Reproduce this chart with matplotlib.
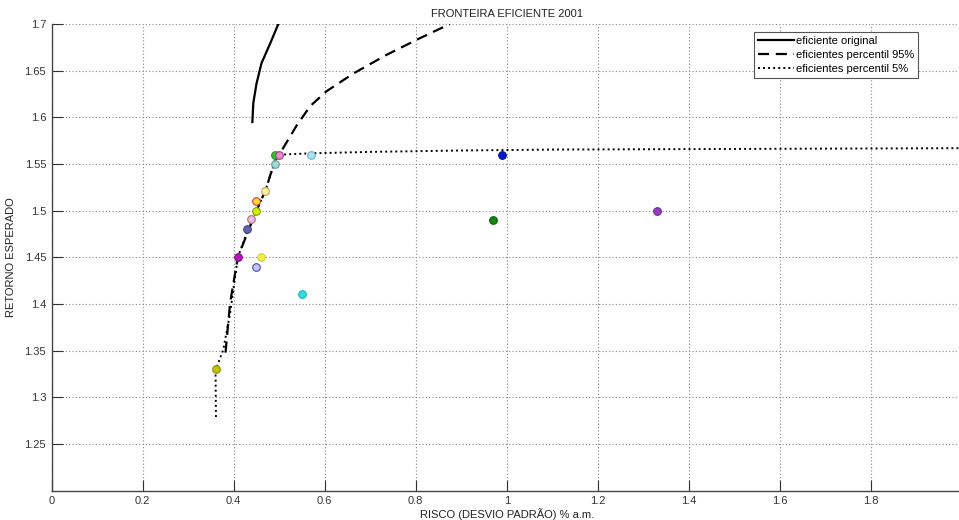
import matplotlib
matplotlib.use("Agg")
import matplotlib.pyplot as plt

plt.rcParams["font.family"] = ["Liberation Sans", "DejaVu Sans"]
plt.rcParams["font.size"] = 8

# efficient frontiers
orig_x = [0.441, 0.443, 0.450, 0.461, 0.480, 0.498]
orig_y = [1.595, 1.615, 1.636, 1.658, 1.679, 1.700]

p95_x = [0.382, 0.392, 0.409, 0.430, 0.450, 0.470, 0.490, 0.500, 0.538, 0.568, 0.604, 0.663, 0.736, 0.810, 0.875]
p95_y = [1.348, 1.401, 1.450, 1.476, 1.500, 1.522, 1.553, 1.560, 1.591, 1.612, 1.628, 1.647, 1.667, 1.685, 1.700]

p5_x = [0.361, 0.360, 0.377, 0.392, 0.409, 0.430, 0.450, 0.470, 0.490, 0.500, 0.570, 0.700, 0.900, 1.100, 1.400, 1.700, 2.000]
p5_y = [1.279, 1.329, 1.351, 1.390, 1.450, 1.478, 1.500, 1.522, 1.552, 1.560, 1.5615, 1.563, 1.5645, 1.5655, 1.566, 1.5665, 1.567]

# individual assets
asset_x = [0.490, 0.499, 0.490, 0.569, 0.468, 0.450, 0.450, 0.439, 0.430, 0.409, 0.460, 0.449, 0.550, 0.360, 0.990, 0.970, 1.330]
asset_y = [1.560, 1.560, 1.550, 1.560, 1.521, 1.510, 1.500, 1.491, 1.480, 1.450, 1.450, 1.440, 1.411, 1.330, 1.560, 1.490, 1.500]
asset_face = ["#2ec82e", "#f088d0", "#a8d4d4", "#a8e4f0", "#f8f0a8", "#f4dc3c", "#d4f000", "#d4c4f0",
              "#6464a8", "#c010c0", "#f4f040", "#c4c4f8", "#30e0e8", "#c4c010", "#0818d0", "#108a10", "#9040c0"]
asset_edge = ["#2a8a2a", "#a04080", "#60a0a0", "#70b0c0", "#c8a040", "#d04040", "#90a000", "#d06060",
              "#404080", "#801080", "#d0d040", "#5050b0", "#20b0b8", "#909000", "#0010a0", "#0a600a", "#6a2a90"]

fig = plt.figure(figsize=(9.59, 5.2), dpi=100)
ax = fig.add_axes([0.0539, 0.0563, 0.949, 0.8975])

ax.plot(orig_x, orig_y, color="black", lw=1.6, label="eficiente original")
ax.plot(p95_x, p95_y, color="black", lw=1.6, ls=(0, (5, 3)), label="eficientes percentil 95%")
ax.plot(p5_x, p5_y, color="black", lw=1.4, ls=(0, (1, 1.6)), label="eficientes percentil 5%")

for x, y, fc, ec in zip(asset_x, asset_y, asset_face, asset_edge):
    ax.plot(x, y, "o", ms=5.5, mfc=fc, mec=ec, mew=0.8, zorder=3)

ax.set_xlim(0, 2)
ax.set_ylim(1.2, 1.7)
ax.set_xticks([0, 0.2, 0.4, 0.6, 0.8, 1, 1.2, 1.4, 1.6, 1.8])
ax.set_xticklabels(["0", "0.2", "0.4", "0.6", "0.8", "1", "1.2", "1.4", "1.6", "1.8"])
ax.set_yticks([1.25, 1.3, 1.35, 1.4, 1.45, 1.5, 1.55, 1.6, 1.65, 1.7])
ax.set_yticklabels(["1.25", "1.3", "1.35", "1.4", "1.45", "1.5", "1.55", "1.6", "1.65", "1.7"])
ax.tick_params(direction="in", length=8, width=0.8, colors="#333333", labelcolor="#333333", pad=4)
ax.grid(True, ls=(0, (1, 2)), color="#888888", lw=0.8)

for s in ["top", "right"]:
    ax.spines[s].set_visible(False)
for s in ["left", "bottom"]:
    ax.spines[s].set_color("#444444")
    ax.spines[s].set_linewidth(1.0)

ax.set_title("FRONTEIRA EFICIENTE 2001", fontsize=8, color="#222222", pad=5)
ax.set_xlabel("RISCO (DESVIO PADRÃO) % a.m.", fontsize=8, color="#222222", labelpad=1)
ax.set_ylabel("RETORNO ESPERADO", fontsize=8, color="#222222", labelpad=6)

leg = ax.legend(loc="upper left", bbox_to_anchor=(0.772, 0.982), fontsize=8, frameon=True,
                fancybox=False, framealpha=1, edgecolor="#555555", handlelength=3.2,
                handletextpad=0.2, borderpad=0.35, labelspacing=0.35, borderaxespad=0)
leg.get_frame().set_linewidth(0.8)

fig.savefig("out.png", dpi=100)
